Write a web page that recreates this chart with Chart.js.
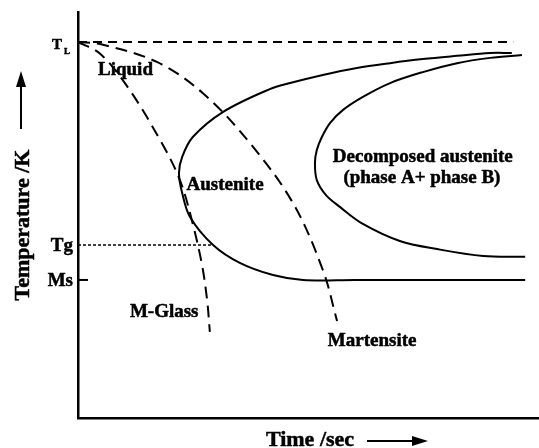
<!DOCTYPE html>
<html>
<head>
<meta charset="utf-8">
<script src="https://cdn.jsdelivr.net/npm/chart.js@4.4.0/dist/chart.umd.min.js"></script>
<style>
  html, body { margin: 0; padding: 0; background: #fff; }
</style>
</head>
<body>
<canvas id="ttt" width="539" height="448"></canvas>
<script>
// schematic TTT diagram, time and temperature in arbitrary units (0-100)
const austeniteTime = [94.1, 89.4, 82.2, 74.8, 67.7, 60.5, 53.1, 46.0, 41.6, 31.5, 24.9, 22.6, 21.9, 22.6, 24.3, 29.3, 35.1, 42.3, 48.8, 60.0, 80.0, 97.0];
const austeniteTemp = [89.9, 89.9, 89.2, 88.4, 87.4, 86.2, 84.5, 82.5, 81.0, 75.4, 69.2, 64.3, 60.3, 55.4, 49.5, 42.6, 38.2, 35.2, 34.0, 34.0, 34.0, 34.0];

const decomposedTime = [96.3, 89.4, 82.2, 74.8, 67.7, 61.8, 57.5, 54.7, 52.9, 51.8, 51.4, 51.8, 53.8, 56.8, 61.8, 69.8, 77.9, 87.9, 97.0];
const decomposedTemp = [89.4, 88.7, 87.4, 85.2, 82.5, 79.1, 75.9, 72.7, 69.2, 66.0, 62.8, 58.6, 54.9, 52.0, 47.8, 43.6, 41.6, 39.9, 39.7];

const glassCoolTime = [0, 4.8, 10.6, 17.8, 22.1, 24.9, 26.9, 28.0, 28.6];
const glassCoolTemp = [92.6, 89.7, 81.8, 68.5, 58.6, 47.8, 37.7, 29.1, 21.2];

const martCoolTime = [0, 4.8, 17.1, 27.1, 37.3, 46.6, 53.1, 56.2];
const martCoolTemp = [92.6, 92.1, 87.7, 80.0, 67.7, 53.0, 36.5, 23.9];

// reference temperatures
const tempMarks = ["T", "Tg", "Ms"];
const tempMarkSub = ["L", "", ""];
const tempMarkValues = [92.6, 42.6, 34.0];
const liquidusEnd = 94.4;
const glassLineEnd = 29.3;

// region names
const regionNames = ["Liquid", "Austenite", "Decomposed austenite", "(phase A+ phase B)", "M-Glass", "Martensite"];
const regionTime = [10.3, 31.9, 74.8, 74.6, 18.7, 63.8];
const regionTemp = [84.5, 56.2, 63.1, 57.9, 24.9, 17.7];

const xTitle = "Time /sec";
const yTitle = "Temperature /K";

const SERIF = '"Liberation Serif", "Times New Roman", serif';

function pts(xs, ys) {
  return xs.map((v, i) => ({ x: v, y: ys[i] }));
}

// bold serif text, a touch heavier like the scanned original
function heavyText(ctx, t, x, y) {
  ctx.fillText(t, x, y);
  ctx.strokeText(t, x, y);
}

function arrow(ctx, x1, y1, x2, y2, head, half) {
  const a = Math.atan2(y2 - y1, x2 - x1);
  const bx = x2 - head * Math.cos(a), by = y2 - head * Math.sin(a);
  ctx.beginPath();
  ctx.moveTo(x1, y1);
  ctx.lineTo(bx, by);
  ctx.stroke();
  ctx.beginPath();
  ctx.moveTo(x2, y2);
  ctx.lineTo(bx + half * Math.sin(a), by - half * Math.cos(a));
  ctx.lineTo(bx - half * Math.sin(a), by + half * Math.cos(a));
  ctx.closePath();
  ctx.fill();
}

const tttText = {
  id: "tttText",
  afterDraw(chart) {
    const { ctx, chartArea } = chart;
    const xs = chart.scales.x, ys = chart.scales.y;
    ctx.save();
    ctx.fillStyle = "#000";
    ctx.strokeStyle = "#000";
    ctx.lineWidth = 0.5;
    ctx.lineJoin = "round";

    // region names
    ctx.font = "bold 19px " + SERIF;
    ctx.textAlign = "center";
    ctx.textBaseline = "alphabetic";
    regionNames.forEach((t, i) => {
      heavyText(ctx, t, xs.getPixelForValue(regionTime[i]), ys.getPixelForValue(regionTemp[i]));
    });

    // temperature marks on the y axis
    tempMarks.forEach((t, i) => {
      const py = ys.getPixelForValue(tempMarkValues[i]);
      if (tempMarkSub[i]) {
        ctx.font = "bold 15px " + SERIF;
        ctx.textAlign = "right";
        heavyText(ctx, t, chartArea.left - 16, py + 7);
        ctx.font = "bold 9px " + SERIF;
        ctx.textAlign = "left";
        heavyText(ctx, tempMarkSub[i], chartArea.left - 14, py + 12);
      } else {
        ctx.font = "bold 19px " + SERIF;
        ctx.textAlign = "right";
        heavyText(ctx, t, chartArea.left - 5, py + 6);
      }
    });

    // axis titles
    ctx.font = "bold 22px " + SERIF;
    ctx.textAlign = "center";
    heavyText(ctx, xTitle, 310, 446);
    ctx.save();
    ctx.translate(29, 225);
    ctx.rotate(-Math.PI / 2);
    heavyText(ctx, yTitle, 0, 0);
    ctx.restore();

    // Ms tick
    const msY = ys.getPixelForValue(tempMarkValues[2]);
    ctx.lineWidth = 2;
    ctx.beginPath();
    ctx.moveTo(chartArea.left, msY);
    ctx.lineTo(chartArea.left + 10, msY);
    ctx.stroke();

    // arrows next to the axis titles
    arrow(ctx, 367, 441, 428, 441, 16, 5);
    arrow(ctx, 21, 129, 21, 71, 16, 5);

    ctx.restore();
  }
};

const lineStyle = { borderColor: "#000", borderWidth: 2, pointRadius: 0, showLine: true, fill: false };

new Chart(document.getElementById("ttt"), {
  type: "scatter",
  data: {
    datasets: [
      { ...lineStyle, label: "liquidus", data: pts([0, liquidusEnd], [tempMarkValues[0], tempMarkValues[0]]), borderDash: [9, 6], tension: 0 },
      { ...lineStyle, label: "Tg", data: pts([0, glassLineEnd], [tempMarkValues[1], tempMarkValues[1]]), borderWidth: 1.5, borderDash: [3, 2], tension: 0 },
      { ...lineStyle, label: "austenite", data: pts(austeniteTime, austeniteTemp), tension: 0.35 },
      { ...lineStyle, label: "decomposed", data: pts(decomposedTime, decomposedTemp), tension: 0.35 },
      { ...lineStyle, label: "glass cooling", data: pts(glassCoolTime, glassCoolTemp), borderDash: [12, 7], tension: 0.35 },
      { ...lineStyle, label: "martensite cooling", data: pts(martCoolTime, martCoolTemp), borderDash: [12, 7], tension: 0.35 }
    ]
  },
  options: {
    responsive: false,
    animation: false,
    layout: { padding: { top: 12, right: 0, left: 0, bottom: 0 } },
    plugins: { legend: { display: false }, tooltip: { enabled: false } },
    scales: {
      x: {
        type: "linear", min: 0, max: 100,
        grid: { display: false, drawTicks: false },
        border: { display: true, color: "#000", width: 2.5 },
        ticks: { display: false },
        afterFit: s => { s.height = 30; }
      },
      y: {
        type: "linear", min: 0, max: 100,
        grid: { display: false, drawTicks: false },
        border: { display: true, color: "#000", width: 2.5 },
        ticks: { display: false },
        afterFit: s => { s.width = 78; }
      }
    }
  },
  plugins: [tttText]
});
</script>
</body>
</html>
